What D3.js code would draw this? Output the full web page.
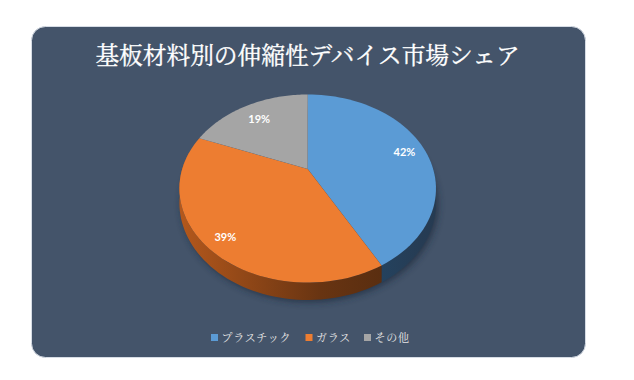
<!DOCTYPE html>
<html><head><meta charset="utf-8">
<script src="https://cdn.jsdelivr.net/npm/d3@7/dist/d3.min.js"></script>
<style>html,body{margin:0;padding:0;background:#fff}svg{display:block}</style>
</head><body><svg id="c" width="634" height="380"></svg>
<script>
const chartTitle = "基板材料別の伸縮性デバイス市場シェア";
const categories = ["プラスチック","ガラス","その他"];
const shares = [42,39,19];
const colors = ["#5b9bd5","#ed7d31","#a5a5a5"];
const sideDark = ["#263b52","#5a2e10","#555555"];
const sideLight = ["#24425e","#b4581c","#666666"];

const svg = d3.select("#c");
const defs = svg.append("defs");
const cx=307.7, cy=169, a=125.5, b=90, k=0.2075, depth=13.8;
function proj(t,r,dz){ // t: angle clockwise from top
  const X=r*Math.sin(t), Y=-r*Math.cos(t), w=1-k*Y;
  return [cx+a*X/w, cy+b*Y/w+(dz?depth/w:0)];
}
const line=d3.line();
const arcs=d3.pie().sort(null).value(d=>d)(shares);

svg.append("rect").attr("x",31.5).attr("y",26.5).attr("width",554).attr("height",331).attr("rx",14)
  .attr("fill","#44546a").attr("stroke","#d6dce5");
svg.append("text").attr("x",307.5).attr("y",64).attr("text-anchor","middle")
  .attr("font-family","'Noto Serif CJK JP','Noto Sans CJK JP',serif").attr("font-size",23.7)
  .attr("fill","#fff").attr("stroke","#fff").attr("stroke-width",0.35).text(chartTitle);

const blur=defs.append("filter").attr("id","sh").attr("x","-20%").attr("y","-20%").attr("width","140%").attr("height","140%");
blur.append("feGaussianBlur").attr("stdDeviation",3.5);

const sweep=(s,e)=>d3.range(0,61).map(i=>s+(e-s)*i/60);
const all=sweep(0,2*Math.PI);
svg.append("path").attr("d",line(all.map(t=>proj(t,1,true)))+"Z").attr("transform","translate(2,2)")
  .attr("fill","#1f2c3c").attr("opacity",.75).attr("filter","url(#sh)");

// side walls (only front half is visible)
arcs.forEach((d,i)=>{
  const g=defs.append("linearGradient").attr("id","side"+i).attr("x1",0).attr("x2",1).attr("y1",0).attr("y2",0);
  g.append("stop").attr("offset",0).attr("stop-color",sideLight[i]);
  g.append("stop").attr("offset",0.7).attr("stop-color",d3.interpolateRgb(sideLight[i],sideDark[i])(0.85));
  g.append("stop").attr("offset",1).attr("stop-color",sideDark[i]);
  const s=Math.max(d.startAngle,Math.PI/2-0.2), e=Math.min(d.endAngle,Math.PI*1.5+0.2);
  if(e<=s) return;
  const ts=sweep(s,e);
  svg.append("path").attr("d",line(ts.map(t=>proj(t,1,false)).concat(ts.slice().reverse().map(t=>proj(t,1,true))))+"Z")
    .attr("fill",`url(#side${i})`);
});
// top faces
arcs.forEach((d,i)=>{
  const pts=[[cx,cy]].concat(sweep(d.startAngle,d.endAngle).map(t=>proj(t,1,false)));
  svg.append("path").attr("d",line(pts)+"Z").attr("fill",colors[i]);
});
// data labels
const labelR=[0.83,0.86,0.78];
arcs.forEach((d,i)=>{
  const p=proj((d.startAngle+d.endAngle)/2,labelR[i],false);
  svg.append("text").attr("x",p[0]).attr("y",p[1]+5).attr("text-anchor","middle")
    .attr("font-family","Lato,'Open Sans',sans-serif").attr("font-weight",700).attr("font-size",11)
    .attr("fill","#fff").text(shares[i]+"%");
});
// legend
const legendX=[211,305.5,364];
categories.forEach((c,i)=>{
  svg.append("rect").attr("x",legendX[i]).attr("y",334).attr("width",7).attr("height",7).attr("fill",colors[i]);
  svg.append("text").attr("x",legendX[i]+10.5).attr("y",341.5)
    .attr("font-family","'Noto Serif CJK JP','Noto Sans CJK JP',serif").attr("font-size",11).attr("letter-spacing",0.8)
    .attr("fill","#e7e6e6").text(c);
});
</script></body></html>
